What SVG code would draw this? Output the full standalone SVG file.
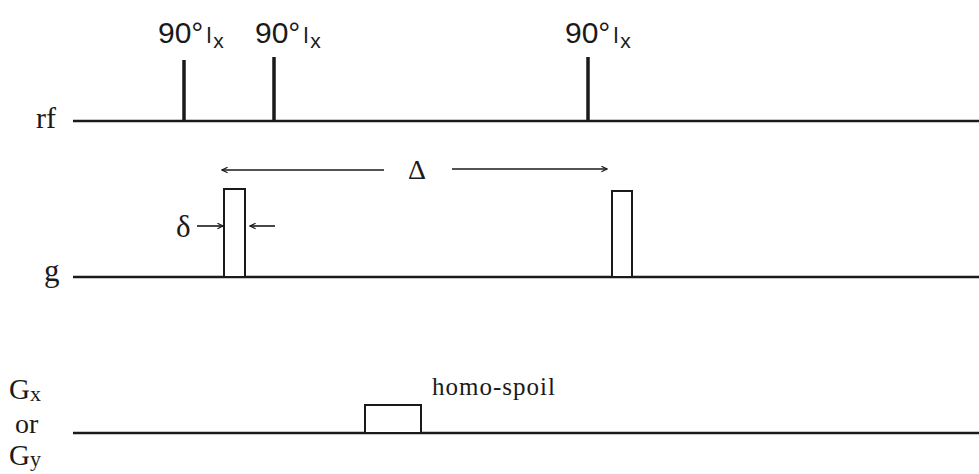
<svg xmlns="http://www.w3.org/2000/svg" width="979" height="474" viewBox="0 0 979 474">
<style>
.base{stroke:#1a1a1a;stroke-width:2.5;fill:none}
.pulse{stroke:#1a1a1a;stroke-width:3.5}
.grad{stroke:#1a1a1a;stroke-width:2;fill:#fff}
.arr{stroke:#1a1a1a;stroke-width:1.6;fill:none}
.sans{font-family:"Liberation Sans","DejaVu Sans",sans-serif;fill:#1a1a1a}
.serif{font-family:"Liberation Serif","DejaVu Serif",serif;fill:#1a1a1a}
</style>
<defs>
<marker id="ah" viewBox="0 0 10 10" refX="9" refY="5" markerWidth="7" markerHeight="7" orient="auto-start-reverse" markerUnits="userSpaceOnUse">
<path d="M1,1 L9,5 L1,9" fill="none" stroke="#1a1a1a" stroke-width="1.6"/>
</marker>
</defs>
<g id="rf-channel">
<text class="serif" x="36" y="128" font-size="30">rf</text>
<line class="base" x1="73" y1="121" x2="979" y2="121"/>
</g>
<g id="pulse1">
<line class="pulse" x1="184" y1="60" x2="184" y2="121"/>
<text class="sans" x="158" y="43" font-size="30">90°<tspan font-size="22" dx="3">l</tspan><tspan font-size="21" dx="2" dy="5">x</tspan></text>
</g>
<g id="pulse2">
<line class="pulse" x1="274" y1="57" x2="274" y2="121"/>
<text class="sans" x="255" y="43" font-size="30">90°<tspan font-size="22" dx="3">l</tspan><tspan font-size="21" dx="2" dy="5">x</tspan></text>
</g>
<g id="pulse3">
<line class="pulse" x1="588" y1="57" x2="588" y2="121"/>
<text class="sans" x="565" y="43" font-size="30">90°<tspan font-size="22" dx="3">l</tspan><tspan font-size="21" dx="2" dy="5">x</tspan></text>
</g>
<g id="g-channel">
<text class="serif" x="44" y="281" font-size="31">g</text>
<line class="base" x1="73" y1="277" x2="979" y2="277"/>
</g>
<g id="gradient1">
<rect class="grad" x="224" y="189" width="21" height="88"/>
</g>
<g id="gradient2">
<rect class="grad" x="612" y="191" width="20" height="86"/>
</g>
<g id="delta-label">
<text class="serif" x="408" y="179" font-size="28">Δ</text>
</g>
<g id="small-delta-label">
<text class="serif" x="176" y="237" font-size="31">δ</text>
</g>
<g id="gxgy-channel">
<text class="serif" x="9" y="399" font-size="29">G<tspan font-size="22" dy="2">x</tspan></text>
<text class="serif" x="15" y="433" font-size="28">or</text>
<text class="serif" x="9" y="465" font-size="29">G<tspan font-size="22" dy="1">y</tspan></text>
<line class="base" x1="73" y1="433" x2="979" y2="433"/>
</g>
<g id="homo-spoil">
<rect class="grad" x="365" y="405" width="56" height="28"/>
<text class="serif" x="432" y="395" font-size="25" textLength="123">homo-spoil</text>
</g>
<g id="connectors">
<line class="arr" x1="384" y1="170" x2="222" y2="170" marker-end="url(#ah)"/>
<line class="arr" x1="452" y1="169" x2="607" y2="169" marker-end="url(#ah)"/>
<line class="arr" x1="197" y1="226" x2="223" y2="226" marker-end="url(#ah)"/>
<line class="arr" x1="275" y1="226" x2="250" y2="226" marker-end="url(#ah)"/>
</g>
</svg>
